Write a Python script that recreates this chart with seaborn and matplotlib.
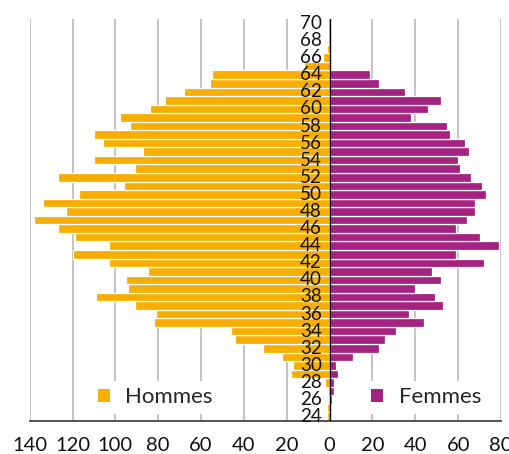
import numpy as np
import pandas as pd
import matplotlib
matplotlib.use("Agg")
import matplotlib.pyplot as plt
from matplotlib.patches import Patch
import seaborn as sns

ages = list(range(24, 71))
hommes = [1, 1, 0.5, 0, 2, 18, 17, 22, 31, 44, 46, 82, 81, 91, 109, 94, 95, 85,
          103, 120, 103, 119, 127, 138, 123, 134, 117, 96, 127, 91, 110, 87, 106,
          110, 93, 98, 84, 77, 68, 56, 55, 12, 3, 1, 0, 0, 0]
femmes = [0, 0, 1, 2, 2, 4, 3, 11, 23, 26, 31, 44, 37, 53, 49, 40, 52, 48,
          72, 59, 79, 70, 59, 64, 68, 68, 73, 71, 66, 61, 60, 65, 63, 56, 55, 38,
          46, 52, 35, 23, 19, 0, 0, 0, 0, 0, 0]
age_labels = list(range(24, 71, 2))
x_ticks = list(range(-140, 81, 20))
series = ["Hommes", "Femmes"]
colors = {"Hommes": "#F8AE00", "Femmes": "#A62281"}

df = pd.DataFrame({
    "age": ages * 2,
    "value": [-v for v in hommes] + femmes,
    "sexe": ["Hommes"] * len(ages) + ["Femmes"] * len(ages),
})

sns.set_theme(style="white")
plt.rcParams["font.family"] = ["Lato", "DejaVu Sans"]

fig = plt.figure(figsize=(5.10, 4.54), dpi=100)
ax = fig.add_axes([0.0582, 0.0733, 0.9242, 0.8848])

sns.barplot(data=df, x="value", y="age", hue="sexe", orient="h", native_scale=True,
            dodge=False, palette=colors, saturation=1, width=1.0, edgecolor="white",
            linewidth=0.9, legend=False, ax=ax, zorder=2)

ax.set_xlim(-140, 80)
ax.set_ylim(23.52, 70.52)
ax.set_xticks(x_ticks)
ax.set_xticklabels([str(abs(t)) for t in x_ticks], fontsize=14.5, color="#111111")
ax.set_yticks([])
ax.set_xlabel("")
ax.set_ylabel("")
ax.tick_params(axis="x", length=0, pad=12)

ax.set_axisbelow(True)
ax.grid(axis="x", color="#b3b3b3", linewidth=1.1, zorder=0)
ax.grid(axis="y", visible=False)
for s in ["top", "left", "right"]:
    ax.spines[s].set_visible(False)
ax.spines["bottom"].set_color("#444444")
ax.spines["bottom"].set_linewidth(1.3)

ax.axvline(0, color="black", linewidth=1.0, zorder=3)

for a in age_labels:
    ax.text(-3.6, a, str(a), ha="right", va="center", fontsize=13.6,
            color="#111111", zorder=4)

for name, xa in [("Hommes", 0.1785), ("Femmes", 0.7145)]:
    leg = fig.legend(handles=[Patch(facecolor=colors[name], edgecolor="none")],
                     labels=[name], loc="center left", bbox_to_anchor=(xa, 0.1245),
                     fontsize=16, frameon=True, framealpha=1, facecolor="white",
                     edgecolor="none", borderaxespad=0, borderpad=0.3,
                     handlelength=0.55, handleheight=0.55, handletextpad=0.7,
                     fancybox=False)

fig.savefig("out.png", dpi=100)
